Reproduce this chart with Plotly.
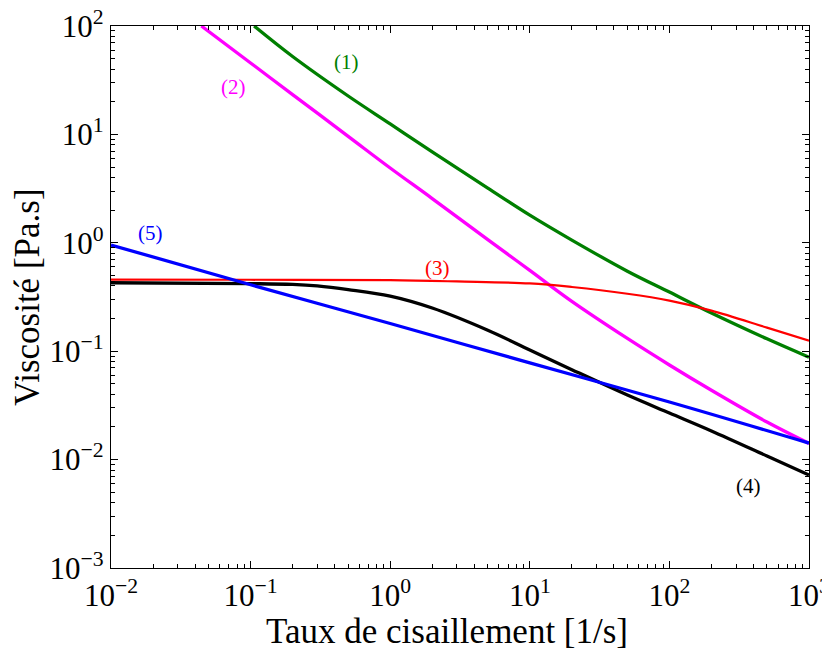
import plotly.graph_objects as go

# Shear rates [1/s] and viscosities [Pa.s]
x1 = [0.106, 0.2, 0.5, 1, 2, 5, 10, 20, 50, 100, 200, 500, 1000]
y1 = [100, 52.3, 22.6, 12.5, 6.9, 3.2, 1.80, 1.06, 0.547, 0.351, 0.225, 0.130, 0.088]

x2 = [0.0444, 0.1, 0.2, 0.5, 1, 2, 5, 10, 20, 50, 100, 200, 500, 1000]
y2 = [100, 45.6, 23.3, 9.6, 4.9, 2.56, 1.07, 0.556, 0.288, 0.131, 0.0746, 0.0436, 0.0222, 0.0141]

x3 = [0.01, 0.1, 1, 3, 10, 20, 50, 100, 200, 500, 1000]
y3 = [0.457, 0.456, 0.452, 0.44, 0.422, 0.391, 0.339, 0.293, 0.237, 0.165, 0.125]

x4 = [0.01, 0.1, 0.2, 0.3, 0.5, 1, 2, 5, 10, 20, 50, 100, 200, 500, 1000]
y4 = [0.428, 0.42, 0.413, 0.40, 0.37, 0.322, 0.25, 0.156, 0.1026, 0.0676, 0.0394, 0.0269, 0.0184, 0.0108, 0.0072]

x5 = [0.01, 0.1, 1, 10, 100, 1000]
y5 = [0.955, 0.41, 0.18, 0.078, 0.034, 0.0142]

x_ticks = [0.01, 0.1, 1, 10, 100, 1000]
x_ticktext = ["10<sup>−2</sup>", "10<sup>−1</sup>", "10<sup>0</sup>", "10<sup>1</sup>", "10<sup>2</sup>", "10<sup>3</sup>"]
y_ticks = [0.001, 0.01, 0.1, 1, 10, 100]
y_ticktext = ["10<sup>−3</sup>", "10<sup>−2</sup>", "10<sup>−1</sup>", "10<sup>0</sup>", "10<sup>1</sup>", "10<sup>2</sup>"]

FONT = "Liberation Serif"

fig = go.Figure()
series = [
    (x1, y1, "#007f00", 3.3),
    (x2, y2, "#ff00ff", 3.3),
    (x3, y3, "#ff0000", 2.2),
    (x4, y4, "#000000", 3.3),
    (x5, y5, "#0000ff", 3.3),
]
for xs, ys, c, w in series:
    fig.add_trace(go.Scatter(x=xs, y=ys, mode="lines",
                             line=dict(color=c, width=w, shape="spline", smoothing=1.0),
                             showlegend=False, hoverinfo="skip"))

def minor_vals(lo, hi):
    vals = []
    for e in range(lo, hi):
        for k in range(2, 10):
            vals.append(k * 10 ** e)
    return vals

axis_common = dict(
    type="log", showgrid=False, zeroline=False, automargin=False,
    showline=True, linecolor="black", linewidth=1.3, mirror="allticks",
    ticks="inside", ticklen=7, tickwidth=1, tickcolor="black",
    ticklabeloverflow="allow",
    tickfont=dict(family=FONT, size=31, color="black"),
)

fig.update_xaxes(**axis_common, range=[-2, 3], tickvals=x_ticks, ticktext=x_ticktext,
                 minor=dict(ticks="inside", ticklen=4, tickcolor="black", tickvals=minor_vals(-2, 3), showgrid=False))
fig.update_yaxes(**axis_common, range=[-3, 2], tickvals=y_ticks, ticktext=y_ticktext,
                 minor=dict(ticks="inside", ticklen=4, tickcolor="black", tickvals=minor_vals(-3, 2), showgrid=False))

# axis titles
fig.add_annotation(xref="paper", yref="paper", x=0.5, y=0, xshift=-13, yshift=-63,
                   xanchor="center", yanchor="middle", showarrow=False,
                   text="Taux de cisaillement [1/s]", font=dict(family=FONT, size=35, color="black"))
fig.add_annotation(xref="paper", yref="paper", x=0, y=0.5, xshift=-84, yshift=0,
                   xanchor="center", yanchor="middle", showarrow=False, textangle=-90,
                   text="Viscosité [Pa.s]", font=dict(family=FONT, size=35, color="black"))

labels = [
    ("(1)", -0.312, 1.671, "#007f00"),
    ("(2)", -1.124, 1.434, "#ff00ff"),
    ("(3)", 0.337, -0.235, "#ff0000"),
    ("(4)", 2.565, -2.244, "#000000"),
    ("(5)", -1.716, 0.088, "#0000ff"),
]
for t, lx, ly, c in labels:
    fig.add_annotation(x=lx, y=ly, text=t, showarrow=False,
                       font=dict(family=FONT, size=21, color=c))

# the page body adds an 8px offset, so the figure is sized to fit the window
fig.update_layout(
    width=822, height=644,
    margin=dict(l=103, r=21, t=18, b=84),
    paper_bgcolor="white", plot_bgcolor="white",
)

fig.write_html("out.html")
